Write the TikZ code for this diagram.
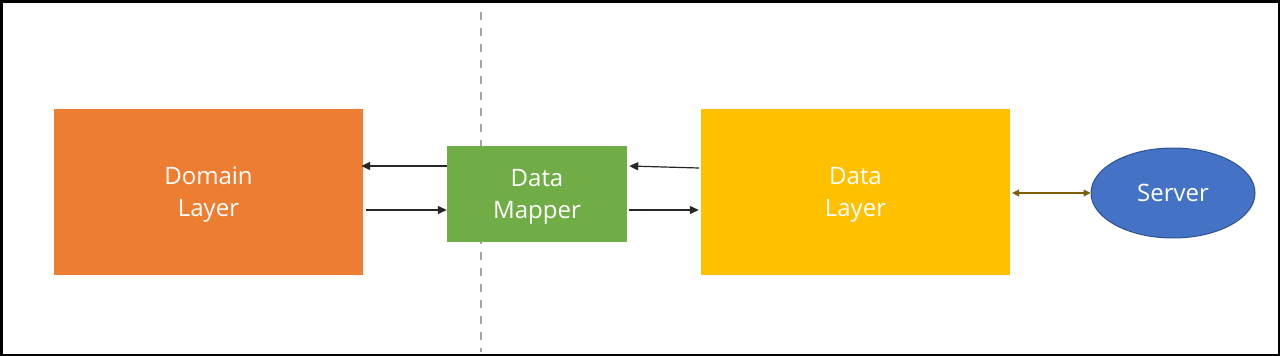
\documentclass[tikz,border=0pt]{standalone}
\usepackage{fontspec}
\setmainfont{Open Sans}
\usetikzlibrary{arrows.meta,shapes.geometric}
\definecolor{dorange}{HTML}{ED7D31}
\definecolor{dgreen}{HTML}{70AD47}
\definecolor{dgold}{HTML}{FFC000}
\definecolor{dblue}{HTML}{4472C4}
\definecolor{dblueb}{HTML}{2F528F}
\definecolor{dbrown}{HTML}{7F6000}
\definecolor{dgray}{HTML}{A6A6A6}
\tikzset{
  lbl/.style={text=white, align=center, font=\fontsize{24}{32}\selectfont},
  box/.style={rectangle, inner sep=0pt, lbl, text depth=0pt},
  conn/.style={-{Triangle[length=9pt,width=8pt]}, line width=1.2pt, black!85},
  dbl/.style={{Triangle[length=7pt,width=7pt]}-{Triangle[length=7pt,width=7pt]}, line width=1.2pt, dbrown},
}
\begin{document}
\begin{tikzpicture}[x=1pt,y=-1pt]
\useasboundingbox (0,0) rectangle (1280,356);
\fill[white] (0,0) rectangle (1280,356);
\draw[line width=2.5pt] (1.25,1.25) rectangle (1278.75,354.75);
\draw[dgray, line width=2pt, dash pattern=on 8pt off 8pt] (481,12) coordinate (dtop) -- (481,352) coordinate (dbot);
\node[box, fill=dorange, minimum width=309pt, minimum height=166pt] (dom) at (208.5,192) {Domain\\Layer};
\node[box, fill=dgreen, minimum width=180pt, minimum height=96pt] (map) at (537,194) {Data\\Mapper};
\node[box, fill=dgold, minimum width=309pt, minimum height=166pt] (dat) at (855.5,192) {Data\\Layer};
\node[ellipse, fill=dblue, draw=dblueb, line width=1pt, minimum width=164pt, minimum height=90pt, inner sep=0pt, lbl] (srv) at (1173,193) {Server};
\draw[conn] (map.west |- 0,166) -- ([xshift=-2pt]dom.east |- 0,166);
\draw[conn] ([xshift=3pt]dom.east |- 0,210) -- (map.west |- 0,210);
\draw[conn] ([xshift=-2pt]dat.west |- 0,168) -- ([xshift=2pt]map.east |- 0,166);
\draw[conn] ([xshift=2pt]map.east |- 0,210) -- ([xshift=-2pt]dat.west |- 0,210);
\draw[dbl] ([xshift=2pt]dat.east |- 0,193) -- (srv.west);
\end{tikzpicture}
\end{document}
